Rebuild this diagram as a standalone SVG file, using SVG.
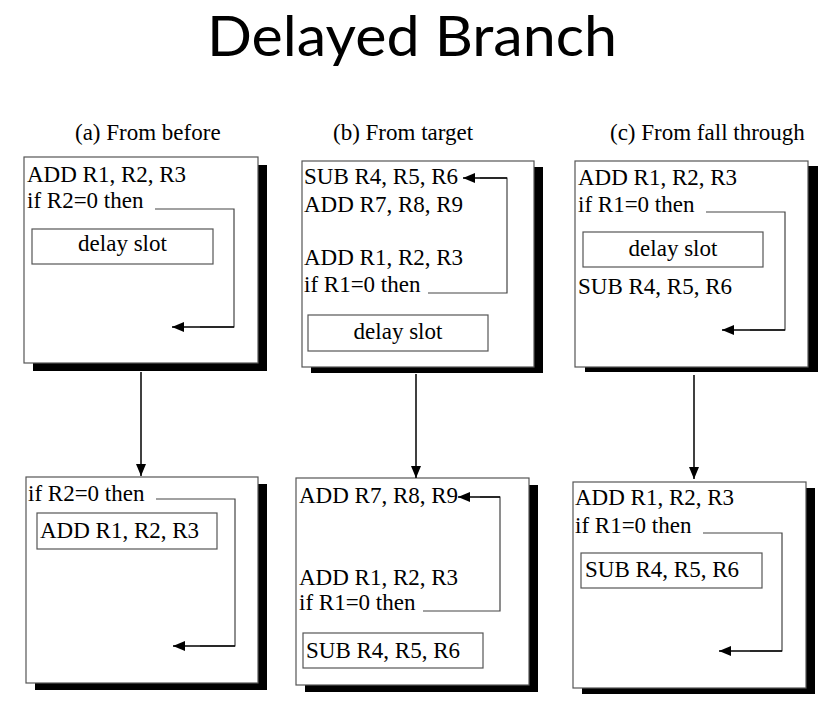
<svg xmlns="http://www.w3.org/2000/svg" width="839" height="709" viewBox="0 0 839 709">
<style>
.box{fill:#fff;stroke:#555;stroke-width:1.2}
.sh{fill:#000}
.slot{fill:#fff;stroke:#555;stroke-width:1.2}
.t{font-family:"Liberation Serif","Times New Roman",serif;font-size:23px;fill:#000}
.hd{font-family:"Liberation Serif","Times New Roman",serif;font-size:23px;fill:#000}
.c{fill:none;stroke:#444;stroke-width:1.2}
.v{fill:none;stroke:#000;stroke-width:1.5}
.a{fill:none;stroke:#000;stroke-width:1.5}
</style>
<defs>
<marker id="ah" viewBox="0 0 12 10" refX="12" refY="5" markerWidth="12" markerHeight="10" markerUnits="userSpaceOnUse" orient="auto">
<path d="M0,0 L12,5 L0,10 Z" fill="#000"/>
</marker>
</defs>
<rect width="839" height="709" fill="#fff"/>
<text x="412" y="56" text-anchor="middle" font-family="Lato, 'Open Sans', sans-serif" font-size="57" textLength="410" lengthAdjust="spacingAndGlyphs">Delayed Branch</text>
<text class="hd" x="75" y="140">(a) From before</text>
<text class="hd" x="333" y="140">(b) From target</text>
<text class="hd" x="610" y="140">(c) From fall through</text>

<g id="a1">
<rect class="sh" x="33" y="165" width="234" height="206"/>
<rect class="box" x="24" y="157" width="234" height="206"/>
<text class="t" x="27" y="182">ADD R1, R2, R3</text>
<text class="t" x="27" y="208">if R2=0 then</text>
<rect class="slot" x="32" y="229" width="181" height="35"/>
<text class="t" x="122.5" y="251" text-anchor="middle">delay slot</text>
</g>
<g id="b1">
<rect class="sh" x="311" y="167" width="232" height="206"/>
<rect class="box" x="302" y="161" width="232" height="206"/>
<text class="t" x="304" y="184">SUB R4, R5, R6</text>
<text class="t" x="304" y="212">ADD R7, R8, R9</text>
<text class="t" x="304" y="265">ADD R1, R2, R3</text>
<text class="t" x="304" y="292">if R1=0 then</text>
<rect class="slot" x="308" y="315" width="180" height="36"/>
<text class="t" x="398" y="339" text-anchor="middle">delay slot</text>
</g>
<g id="c1">
<rect class="sh" x="585" y="166" width="233" height="206"/>
<rect class="box" x="575" y="161" width="233" height="206"/>
<text class="t" x="578" y="185">ADD R1, R2, R3</text>
<text class="t" x="578" y="212">if R1=0 then</text>
<rect class="slot" x="583" y="232" width="180" height="35"/>
<text class="t" x="673" y="256" text-anchor="middle">delay slot</text>
<text class="t" x="578" y="294">SUB R4, R5, R6</text>
</g>
<g id="a2">
<rect class="sh" x="35" y="484" width="232" height="206"/>
<rect class="box" x="26" y="477" width="232" height="206"/>
<text class="t" x="28" y="501">if R2=0 then</text>
<rect class="slot" x="37" y="513" width="180" height="36"/>
<text class="t" x="40" y="538">ADD R1, R2, R3</text>
</g>
<g id="b2">
<rect class="sh" x="305" y="485" width="233" height="207"/>
<rect class="box" x="296" y="478" width="233" height="207"/>
<text class="t" x="299" y="503">ADD R7, R8, R9</text>
<text class="t" x="299" y="585">ADD R1, R2, R3</text>
<text class="t" x="299" y="610">if R1=0 then</text>
<rect class="slot" x="303" y="633" width="180" height="35"/>
<text class="t" x="306" y="658">SUB R4, R5, R6</text>
</g>
<g id="c2">
<rect class="sh" x="582" y="488" width="233" height="206"/>
<rect class="box" x="573" y="482" width="233" height="206"/>
<text class="t" x="575" y="505">ADD R1, R2, R3</text>
<text class="t" x="575" y="533">if R1=0 then</text>
<rect class="slot" x="581" y="553" width="181" height="35"/>
<text class="t" x="585" y="577">SUB R4, R5, R6</text>
</g>

<g id="connectors">
<polyline class="c" points="155,209 234,209 234,327 200,327"/>
<line class="a" x1="234" y1="327" x2="172" y2="327" marker-end="url(#ah)"/>
<polyline class="c" points="428,293 507,293 507,178 480,178"/>
<line class="a" x1="507" y1="178" x2="463" y2="178" marker-end="url(#ah)"/>
<polyline class="c" points="706,212 785,212 785,330 750,330"/>
<line class="a" x1="785" y1="330" x2="722" y2="330" marker-end="url(#ah)"/>
<polyline class="c" points="156,499 235,499 235,646 200,646"/>
<line class="a" x1="235" y1="646" x2="173" y2="646" marker-end="url(#ah)"/>
<polyline class="c" points="423,611 500,611 500,497 480,497"/>
<line class="a" x1="500" y1="497" x2="458" y2="497" marker-end="url(#ah)"/>
<polyline class="c" points="703,533 782,533 782,651 750,651"/>
<line class="a" x1="782" y1="651" x2="719" y2="651" marker-end="url(#ah)"/>
<line class="v" x1="141" y1="372" x2="141" y2="476" marker-end="url(#ah)"/>
<line class="v" x1="416" y1="374" x2="416" y2="478" marker-end="url(#ah)"/>
<line class="v" x1="694" y1="375" x2="694" y2="479" marker-end="url(#ah)"/>
</g>
</svg>
